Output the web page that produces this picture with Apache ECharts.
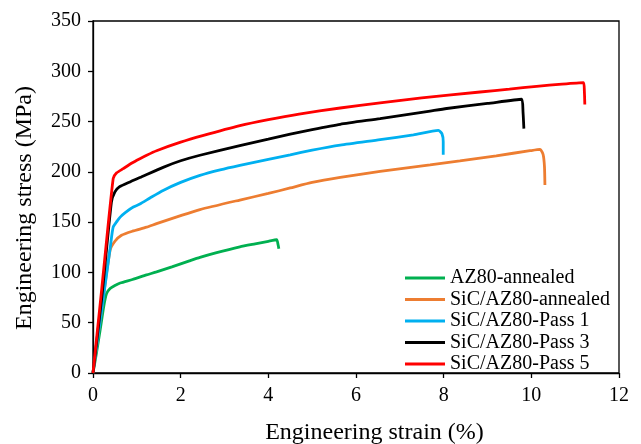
<!DOCTYPE html>
<html>
<head>
<meta charset="utf-8">
<script src="https://cdn.jsdelivr.net/npm/echarts@6/dist/echarts.min.js"></script>
<style>
  html, body { margin: 0; padding: 0; background: #fff; }
  #chart { width: 641px; height: 444px; }
</style>
</head>
<body>
<div id="chart"></div>
<script>
// tensile curves (strain in %, stress in MPa)
const az80Strain = [0, 0.08, 0.16, 0.23, 0.27, 0.31, 0.39, 0.5, 0.62, 0.9, 1.22, 1.45, 1.8, 2.2, 2.44, 2.8, 3.35, 3.7, 4.0, 4.19, 4.22, 4.24];
const az80Stress = [0, 20, 42, 62, 72, 79, 84, 87, 89.5, 93, 97.5, 100.5, 105.5, 111.5, 115, 119.5, 125.5, 128.5, 131, 132.5, 128, 123.5];

const sicAnnStrain = [0, 0.2, 0.39, 0.5, 0.65, 0.9, 1.22, 1.45, 2.0, 2.44, 3.35, 4.0, 4.5, 5.0, 5.64, 6.55, 7.69, 8.37, 9.2, 9.97, 10.2, 10.27, 10.3, 10.31];
const sicAnnStress = [0, 64, 122, 131, 137, 141, 145, 148.5, 156.5, 162.5, 172, 178.5, 184, 189.5, 194.5, 200.5, 207, 211, 216, 221, 222.3, 217, 205, 187];

const pass1Strain = [0, 0.2, 0.4, 0.46, 0.55, 0.62, 0.75, 0.92, 1.07, 1.3, 1.6, 2.0, 2.44, 2.9, 3.35, 4.0, 4.5, 5.0, 5.64, 6.55, 7.31, 7.88, 7.96, 7.99, 7.99];
const pass1Stress = [0, 63, 127, 145, 151, 155, 160, 165, 168, 174, 181.5, 189.5, 196.5, 202, 206.5, 212.5, 217, 221.5, 226.5, 232, 236.8, 241.3, 238, 230, 217];

const pass3Strain = [0, 0.2, 0.42, 0.5, 0.6, 0.844, 1.07, 1.6, 2.0, 2.44, 3.35, 4.0, 4.5, 5.0, 5.64, 6.55, 7.69, 8.07, 9.0, 9.78, 9.81, 9.83];
const pass3Stress = [0, 75, 170, 180, 185, 190, 194.3, 204.5, 211, 216.5, 226, 232.5, 237.5, 242, 247.3, 253, 260.5, 263, 268, 272.2, 260, 243];

const pass5Strain = [0, 0.2, 0.46, 0.54, 0.69, 0.9, 1.07, 1.225, 1.45, 2.0, 2.5, 3.35, 4.0, 4.7, 5.64, 6.55, 7.5, 8.83, 9.5, 10.12, 10.7, 11.19, 11.21, 11.22];
const pass5Stress = [0, 84, 193.3, 199, 203.2, 209, 213, 216.5, 221, 229.5, 236, 246, 252, 257.5, 263.5, 268.5, 273.5, 279.4, 282.3, 285, 287.3, 288.8, 280, 267];

const seriesNames = ['AZ80-annealed', 'SiC/AZ80-annealed', 'SiC/AZ80-Pass 1', 'SiC/AZ80-Pass 3', 'SiC/AZ80-Pass 5'];
const seriesColors = ['#00B050', '#ED7D31', '#00B0F0', '#000000', '#FF0000'];
const curves = [
  [az80Strain, az80Stress],
  [sicAnnStrain, sicAnnStress],
  [pass1Strain, pass1Stress],
  [pass3Strain, pass3Stress],
  [pass5Strain, pass5Stress]
];

const serif = "'Liberation Serif', 'Times New Roman', serif";

function zip(xs, ys) {
  return xs.map((x, i) => [x, ys[i]]);
}

const chart = echarts.init(document.getElementById('chart'));

chart.setOption({
  animation: false,
  grid: {
    left: 93,
    right: 22,
    top: 21,
    bottom: 71,
    outerBoundsMode: 'none',
    show: true,
    borderColor: '#000',
    borderWidth: 1.3
  },
  legend: {
    orient: 'vertical',
    left: 400,
    top: 263,
    itemWidth: 40,
    itemHeight: 3,
    itemGap: 1.5,
    icon: 'rect',
    data: seriesNames,
    textStyle: { fontFamily: serif, fontSize: 20, color: '#000', lineHeight: 20 }
  },
  xAxis: {
    type: 'value',
    min: 0,
    max: 12,
    interval: 2,
    name: 'Engineering strain (%)',
    nameLocation: 'middle',
    nameGap: 48,
    nameTextStyle: { fontFamily: serif, fontSize: 24, color: '#000', padding: [0, 0, 0, 37] },
    axisLine: { lineStyle: { color: '#000', width: 1.3 } },
    axisTick: { show: true, inside: false, length: 5, lineStyle: { color: '#000', width: 1.3 } },
    axisLabel: { fontFamily: serif, fontSize: 20, color: '#000', margin: 13 },
    splitLine: { show: false }
  },
  yAxis: {
    type: 'value',
    min: 0,
    max: 350,
    interval: 50,
    name: 'Engineering stress (MPa)',
    nameLocation: 'middle',
    nameGap: 56,
    nameTextStyle: { fontFamily: serif, fontSize: 24, color: '#000', padding: [0, 22, 0, 0] },
    axisLine: { show: true, lineStyle: { color: '#000', width: 1.3 } },
    axisTick: { show: true, inside: false, length: 5, lineStyle: { color: '#000', width: 1.3 } },
    axisLabel: { fontFamily: serif, fontSize: 20, color: '#000', margin: 12 },
    splitLine: { show: false }
  },
  series: curves.map((c, i) => ({
    name: seriesNames[i],
    type: 'line',
    data: zip(c[0], c[1]),
    showSymbol: false,
    symbol: 'none',
    smooth: 0.2,
    lineStyle: { color: seriesColors[i], width: 2.8 },
    itemStyle: { color: seriesColors[i] }
  }))
});
</script>
</body>
</html>
